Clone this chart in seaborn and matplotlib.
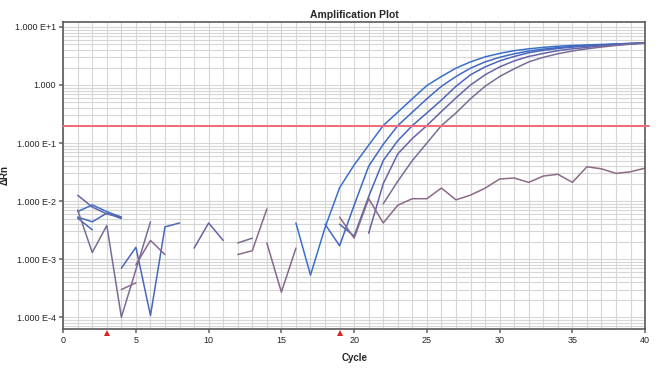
import numpy as np
import pandas as pd
import matplotlib
matplotlib.use("Agg")
import matplotlib.pyplot as plt
from matplotlib.ticker import LogLocator, MultipleLocator, NullFormatter
import seaborn as sns

nan = np.nan
cycles = list(range(1, 41))

# delta Rn per cycle, gaps where the baseline-corrected value was <= 0
well_a = [0.0066, 0.0086, 0.0066, 0.0053, nan, nan, nan, nan, nan, nan,
          nan, nan, nan, nan, nan, 0.0042, 0.00053, 0.0035, 0.017, 0.042,
          0.092, 0.2, 0.34, 0.58, 0.98, 1.4, 1.95, 2.5, 3.05, 3.5,
          3.9, 4.2, 4.45, 4.65, 4.8, 4.9, 5.0, 5.1, 5.2, 5.3]
well_b = [0.0053, 0.0044, 0.0062, 0.005, nan, nan, nan, nan, nan, nan,
          nan, nan, nan, nan, nan, nan, nan, 0.004, 0.0017, 0.0085,
          0.04, 0.095, 0.2, 0.34, 0.58, 0.95, 1.4, 1.95, 2.5, 3.0,
          3.45, 3.85, 4.15, 4.4, 4.6, 4.75, 4.9, 5.05, 5.2, 5.3]
well_c = [0.0051, 0.0032, nan, 0.0007, 0.0016, 0.000107, 0.0036, 0.0042, nan, nan,
          nan, nan, nan, nan, nan, nan, nan, nan, 0.004, 0.0025,
          0.012, 0.05, 0.11, 0.2, 0.33, 0.55, 0.95, 1.5, 2.05, 2.6,
          3.1, 3.6, 3.95, 4.25, 4.5, 4.7, 4.85, 5.0, 5.15, 5.3]
well_d = [0.0126, 0.0079, 0.006, 0.0053, nan, nan, nan, nan, 0.00155, 0.0042,
          0.0021, nan, nan, nan, nan, nan, nan, nan, nan, nan,
          0.0028, 0.02, 0.065, 0.12, 0.2, 0.35, 0.6, 1.0, 1.5, 2.05,
          2.6, 3.1, 3.5, 3.9, 4.2, 4.45, 4.7, 4.9, 5.1, 5.3]
well_e = [0.007, 0.0013, 0.0038, 0.0001, 0.00066, 0.0044, nan, nan, nan, nan,
          nan, 0.0019, 0.0023, nan, nan, nan, nan, nan, nan, nan,
          nan, 0.009, 0.022, 0.05, 0.1, 0.2, 0.33, 0.58, 0.95, 1.4,
          1.9, 2.5, 3.0, 3.45, 3.85, 4.2, 4.5, 4.8, 5.05, 5.25]
well_ntc = [nan, nan, nan, 0.0003, 0.00039, nan, nan, nan, nan, nan,
            nan, 0.0012, 0.0014, 0.0073, nan, nan, nan, nan, 0.0053, 0.0023,
            0.011, 0.0042, 0.0085, 0.011, 0.011, 0.0168, 0.0105, 0.0127, 0.0167, 0.024,
            0.025, 0.021, 0.027, 0.029, 0.021, 0.039, 0.036, 0.030, 0.032, 0.037]
well_blank = [nan, nan, nan, nan, 0.0008, 0.0021, 0.0012, nan, nan, nan,
              nan, nan, nan, 0.0019, 0.00027, 0.00155, nan, nan, nan, nan,
              nan, nan, nan, nan, nan, nan, nan, nan, nan, nan,
              nan, nan, nan, nan, nan, nan, nan, nan, nan, nan]

well_names = ["A", "B", "C", "D", "E", "NTC", "blank"]
well_values = [well_a, well_b, well_c, well_d, well_e, well_ntc, well_blank]
well_colors = ["#3a6fcc", "#3f69c2", "#4a66bb", "#6463aa", "#7a6c96", "#8c6a88", "#85688f"]

threshold = 0.2
baseline_marks = [3, 19]
x_ticks = [0, 5, 10, 15, 20, 25, 30, 35, 40]
y_ticks = [10, 1, 0.1, 0.01, 0.001, 0.0001]
y_tick_labels = ["1.000 E+1", "1.000", "1.000 E-1", "1.000 E-2", "1.000 E-3", "1.000 E-4"]

# long form, one unit per unbroken run so that gaps stay gaps
frames = []
for name, vals in zip(well_names, well_values):
    s = pd.Series(vals, dtype=float)
    seg = s.isna().cumsum()
    d = pd.DataFrame({"cycle": cycles, "drn": s, "well": name,
                      "run": [f"{name}-{k}" for k in seg]})
    frames.append(d.dropna())
df = pd.concat(frames, ignore_index=True)

sns.set_theme(style="white")
plt.rcParams["font.family"] = ["Liberation Sans", "DejaVu Sans"]

fig = plt.figure(figsize=(6.72, 3.78), dpi=100)
ax = fig.add_axes([0.094, 0.130, 0.866, 0.812])
ax.set_yscale("log")

# grid first
ax.xaxis.set_major_locator(plt.FixedLocator(x_ticks))
ax.xaxis.set_minor_locator(MultipleLocator(1))
ax.yaxis.set_major_locator(plt.FixedLocator(y_ticks))
ax.yaxis.set_minor_locator(LogLocator(base=10, subs=np.arange(2, 10)))
ax.yaxis.set_minor_formatter(NullFormatter())
ax.grid(which="both", axis="both", color="#d6d6d6", lw=0.8)
ax.set_axisbelow(True)

sns.lineplot(data=df, x="cycle", y="drn", hue="well", units="run",
             estimator=None, sort=False, palette=dict(zip(well_names, well_colors)),
             hue_order=well_names, legend=False, lw=1.1, ax=ax)

ax.plot([0, 40.3], [threshold, threshold], color="#f26a78", lw=1.4,
        clip_on=False, zorder=3)

ax.set_xlim(0, 40)
ax.set_ylim(6.3e-5, 12.2)
ax.set_yticklabels(y_tick_labels)
ax.tick_params(axis="both", which="major", labelsize=6.5, length=3,
               direction="out", color="#777777", left=True, bottom=True, pad=2)
ax.tick_params(axis="both", which="minor", length=0)

for side, sp in ax.spines.items():
    sp.set_color("#5a5a5a")
    sp.set_linewidth(1.2)

# baseline start / end flags
for c in baseline_marks:
    ax.plot(c, -0.012, marker="^", color="#e02020", ms=4, mew=0,
            transform=ax.get_xaxis_transform(), clip_on=False)

ax.set_title("Amplification Plot", fontsize=7.5, fontweight="bold", pad=3)
ax.set_xlabel("Cycle", fontsize=7, fontweight="bold", labelpad=6)
ax.set_ylabel("ΔRn", fontsize=7, fontweight="bold", labelpad=4)

fig.savefig("out.png", dpi=100)
